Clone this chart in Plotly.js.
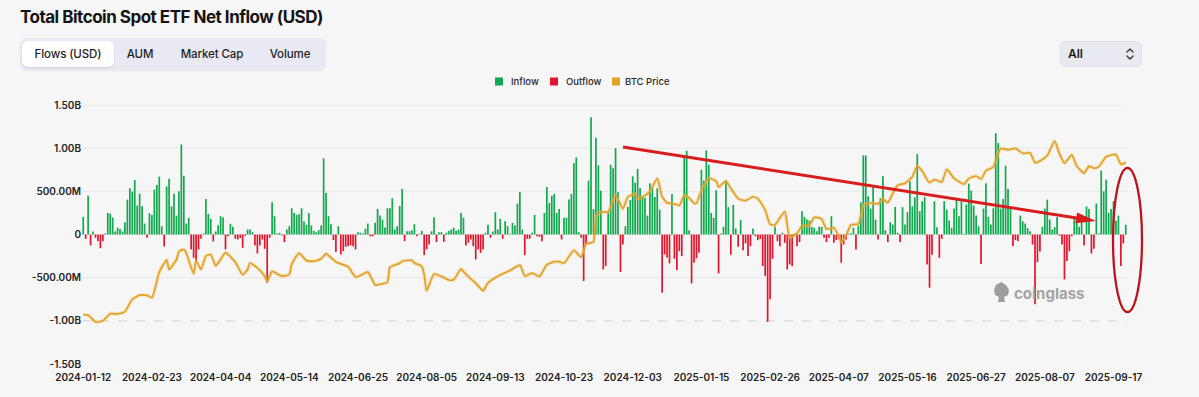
<!DOCTYPE html>
<html>
<head>
<meta charset="utf-8">
<script src="https://cdn.plot.ly/plotly-3.0.1.min.js"></script>
<style>
html,body{margin:0;padding:0;background:#f6f6f6;}
#wrap{position:relative;width:1199px;height:397px;overflow:hidden;background:#f6f6f6;font-family:Inter,"Noto Sans",sans-serif;}
#chart{position:absolute;left:0;top:0;width:1199px;height:397px;}
.title{position:absolute;left:20px;top:7px;font-size:17px;font-weight:700;letter-spacing:-0.5px;color:#141414;white-space:nowrap;}
.tabs{position:absolute;left:20px;top:38px;width:306px;height:32px;background:#e8e9f2;border-radius:7px;box-shadow:0 1px 2px rgba(0,0,0,0.06);}
.tab{position:absolute;top:3px;height:26px;line-height:26px;font-size:11.5px;font-weight:500;letter-spacing:-0.1px;color:#1e1e1e;text-align:center;white-space:nowrap;}
.tab.sel{background:#ffffff;border-radius:6px;box-shadow:0 1px 2px rgba(0,0,0,0.13);}
.dd{position:absolute;left:1060px;top:41px;width:82px;height:26px;background:#e8e9f1;border:1px solid #dcdde6;border-radius:6px;box-sizing:border-box;}
.dd span{position:absolute;left:7px;top:0;line-height:24px;font-size:12px;font-weight:600;color:#1a1a1a;}
.dd svg{position:absolute;left:64px;top:5px;}
</style>
</head>
<body>
<div id="wrap">
  <div id="chart"></div>
  <div class="title">Total Bitcoin Spot ETF Net Inflow (USD)</div>
  <div class="tabs">
    <div class="tab sel" style="left:2px;width:92px;">Flows (USD)</div>
    <div class="tab" style="left:100px;width:40px;">AUM</div>
    <div class="tab" style="left:152px;width:80px;">Market Cap</div>
    <div class="tab" style="left:242px;width:56px;">Volume</div>
  </div>
  <div class="dd"><span>All</span>
    <svg width="10" height="14" viewBox="0 0 10 14"><path d="M2 5 L5 2 L8 5 M2 9 L5 12 L8 9" stroke="#333" stroke-width="1.4" fill="none" stroke-linecap="round" stroke-linejoin="round"/></svg>
  </div>
</div>
<script>
// ---------------- DATA ----------------
// Daily net flows, USD millions, one per US trading day from 2024-01-12
const flows = [
204,-50,450,-127,35,-38,-77,-158,-77,12,
250,243,196,35,80,65,35,142,404,535,
497,631,335,473,327,127,-38,246,227,520,
574,670,96,-139,558,647,327,473,219,500,
1043,681,127,193,-173,-270,-327,-173,-50,12,
412,239,181,-81,35,108,212,200,-173,-20,
123,89,-50,-58,-40,-154,
-15,58,58,27,-127,-220,-127,-58,-166,-560,
-38,373,212,12,20,-10,-88,58,96,304,
250,227,235,304,150,112,250,104,42,27,
50,104,882,481,212,119,-65,-204,96,-231,
-193,-142,-135,-127,-135,-173,27,20,12,65,
127,-20,-20,135,296,219,173,80,304,304,
420,58,96,330,527,
-77,38,38,50,119,-20,10,42,-239,-173,
-116,38,200,-88,27,27,-85,20,42,58,
80,42,58,250,196,-127,-96,-58,-135,-289,
-173,-212,-173,20,112,-38,35,258,58,181,
-50,154,96,10,135,104,358,493,58,-239,
-50,-50,20,227,-20,-27,-77,250,550,366,
450,470,250,296,-58,193,
193,404,470,828,893,27,-38,-539,-116,624,
1359,294,1120,800,508,-404,-366,255,808,766,
1000,490,-435,-116,96,320,400,674,600,760,
539,435,427,219,593,547,435,535,289,-674,
-231,-270,-335,470,-281,-412,-193,-250,908,970,
50,-566,-327,-277,-212,750,627,974,808,250,
193,512,-450,12,89,
628,316,-235,343,69,-142,169,-181,-104,-250,
-135,69,-20,-65,-50,-366,-480,-1013,-750,-281,
89,-77,-135,20,-96,-404,-347,-366,13,-135,
-88,270,204,173,162,89,77,38,89,89,
-38,-88,-38,212,-96,-65,-50,-327,-116,-58,
10,15,77,-173,107,373,916,916,443,300,
558,173,-58,422,674,
50,-88,142,115,320,20,-88,316,115,258,
616,327,431,932,270,385,435,-347,-616,-235,
385,85,-270,-50,385,289,162,77,300,400,
212,385,6,346,589,508,335,219,96,-343,
300,593,204,115,304,1174,1059,300,412,797,
527,327,-135,-65,-77,219,154,127,73,38,
-116,-808,-320,-196,
89,300,404,173,58,85,204,-14,-116,-520,
-308,-193,-20,204,173,89,154,-127,327,296,
-220,-166,358,12,740,500,635,250,296,385,
162,219,-366,-104,112
];

// US market holidays inside the period (trading-day calendar for the categories)
const marketHolidays = ['2024-01-15','2024-02-19','2024-03-29','2024-05-27','2024-06-19','2024-07-04','2024-09-02','2024-11-28','2024-12-25','2025-01-01','2025-01-09','2025-01-20','2025-02-17','2025-04-18','2025-05-26','2025-06-19','2025-07-04','2025-09-01'];
const firstDay = '2024-01-12';

// BTC price, USD thousands
const priceDates = [
'2024-01-12','2024-01-17','2024-01-22','2024-01-25','2024-01-30','2024-02-02','2024-02-07','2024-02-12','2024-02-15','2024-02-21','2024-02-23','2024-02-28',
'2024-03-04','2024-03-05','2024-03-08','2024-03-11','2024-03-13','2024-03-14','2024-03-19','2024-03-20','2024-03-22','2024-03-26','2024-03-28',
'2024-04-02','2024-04-04','2024-04-08','2024-04-12','2024-04-17','2024-04-19','2024-04-22','2024-04-25','2024-04-30',
'2024-05-01','2024-05-03','2024-05-08','2024-05-10','2024-05-14','2024-05-15','2024-05-20','2024-05-23','2024-05-29',
'2024-06-03','2024-06-05','2024-06-07','2024-06-11','2024-06-14','2024-06-18','2024-06-24','2024-06-27',
'2024-07-01','2024-07-05','2024-07-08','2024-07-12','2024-07-15','2024-07-19','2024-07-22','2024-07-26','2024-07-29',
'2024-08-01','2024-08-02','2024-08-05','2024-08-08','2024-08-13','2024-08-16','2024-08-20','2024-08-23','2024-08-26','2024-08-29',
'2024-09-03','2024-09-06','2024-09-10','2024-09-13','2024-09-18','2024-09-23','2024-09-27',
'2024-10-01','2024-10-04','2024-10-09','2024-10-14','2024-10-17','2024-10-21','2024-10-23','2024-10-29',
'2024-11-01','2024-11-05','2024-11-08','2024-11-11','2024-11-13','2024-11-18','2024-11-21','2024-11-26','2024-11-29',
'2024-12-04','2024-12-05','2024-12-09','2024-12-12','2024-12-17','2024-12-19','2024-12-23','2024-12-27','2024-12-31',
'2025-01-03','2025-01-07','2025-01-10','2025-01-13','2025-01-15','2025-01-17','2025-01-21','2025-01-24','2025-01-27','2025-01-30',
'2025-02-03','2025-02-06','2025-02-11','2025-02-14','2025-02-19','2025-02-24','2025-02-26','2025-02-28',
'2025-03-03','2025-03-06','2025-03-10','2025-03-13','2025-03-17','2025-03-20','2025-03-24','2025-03-27','2025-03-31',
'2025-04-03','2025-04-07','2025-04-08','2025-04-10','2025-04-14','2025-04-17','2025-04-22','2025-04-25','2025-04-30',
'2025-05-02','2025-05-06','2025-05-08','2025-05-12','2025-05-15','2025-05-20','2025-05-22','2025-05-27','2025-05-30',
'2025-06-03','2025-06-06','2025-06-10','2025-06-13','2025-06-17','2025-06-20','2025-06-24','2025-06-27',
'2025-07-01','2025-07-03','2025-07-09','2025-07-11','2025-07-14','2025-07-17','2025-07-22','2025-07-25','2025-07-30',
'2025-08-01','2025-08-05','2025-08-08','2025-08-13','2025-08-15','2025-08-19','2025-08-22','2025-08-26','2025-08-29',
'2025-09-03','2025-09-05','2025-09-09','2025-09-12','2025-09-16','2025-09-18','2025-09-22','2025-09-24'
];
const priceValues = [
42.8,42.7,39.5,40.0,43.3,43.2,44.3,50.0,51.9,51.8,50.7,62.5,
68.3,63.8,68.3,72.1,73.1,71.4,61.9,67.9,63.8,70.0,70.7,
65.5,68.5,71.6,67.2,61.3,63.8,66.8,64.5,60.6,
58.3,62.9,61.2,60.8,61.6,66.3,71.4,67.9,67.6,
68.8,71.1,69.3,67.3,66.0,65.1,60.3,61.6,
62.7,56.6,56.7,57.9,64.8,66.7,67.6,68.0,66.8,
65.3,61.4,54.0,61.7,60.6,58.9,59.0,64.1,62.8,59.4,
57.5,53.9,57.6,60.0,61.8,63.3,65.8,
60.8,62.1,60.6,66.0,67.4,67.4,66.7,72.7,
69.5,75.6,76.5,88.7,90.4,90.5,98.3,91.9,97.4,
98.8,96.6,97.4,100.0,106.0,97.5,94.7,94.2,93.4,
98.1,96.9,94.5,94.5,100.5,104.4,106.1,104.7,102.0,104.7,
101.4,96.6,95.7,97.5,96.6,91.4,84.7,84.4,
86.0,90.6,78.5,80.5,84.0,84.2,88.0,87.2,82.5,
83.1,79.2,76.3,79.6,84.5,84.9,93.4,94.6,94.2,
96.5,94.7,99.0,102.8,103.7,106.8,111.7,109.4,104.0,
105.4,104.3,110.2,106.0,104.5,103.3,105.9,107.1,
105.7,109.6,111.3,117.5,119.8,119.3,119.9,117.6,117.8,
113.3,114.1,116.6,123.3,117.4,113.0,116.9,111.7,108.4,
111.7,110.7,111.5,116.0,116.8,117.1,112.6,113.3
];

// x tick labels (every 28th trading day)
const tickLabels = ['2024-01-12','2024-02-23','2024-04-04','2024-05-14','2024-06-25','2024-08-05','2024-09-13','2024-10-23','2024-12-03','2025-01-15','2025-02-26','2025-04-07','2025-05-16','2025-06-27','2025-08-07','2025-09-17'];
const yTickVals = [-1500,-1000,-500,0,500,1000,1500];
const yTickText = ['-1.50B','-1.00B','-500.00M','0','500.00M','1.00B','1.50B'];
const legendNames = ['Inflow','Outflow','BTC Price'];

// ---------------- BUILD ----------------
function tradingDays(start, n){
  const out=[]; const d=new Date(start+'T00:00:00Z');
  while(out.length<n){
    const wd=d.getUTCDay(); const s=d.toISOString().slice(0,10);
    if(wd!==0 && wd!==6 && marketHolidays.indexOf(s)<0) out.push(s);
    d.setUTCDate(d.getUTCDate()+1);
  }
  return out;
}
const dates = tradingDays(firstDay, flows.length);
const dateSet = new Set(dates);
const pX=[], pY=[];
priceDates.forEach((d,i)=>{ if(dateSet.has(d)){ pX.push(d); pY.push(priceValues[i]); } });

const GREEN='#13a84f', RED='#e1162e', ORANGE='#e2a024';
const L=82, R=1127, T=105, B=364;
const px = x => (x-L)/(R-L);
const py = y => (B-y)/(B-T);

const traces = [
  {type:'bar', x:dates, y:flows.map(v=>v>=0?v:null), marker:{color:GREEN}, name:legendNames[0], hoverinfo:'skip'},
  {type:'bar', x:dates, y:flows.map(v=>v<0?v:null), marker:{color:RED}, name:legendNames[1], hoverinfo:'skip'},
  {type:'scatter', mode:'lines', x:pX, y:pY, yaxis:'y2', line:{color:'rgba(240,190,90,0.3)', width:4, shape:'spline', smoothing:0.5}, showlegend:false, hoverinfo:'skip'},
  {type:'scatter', mode:'lines', x:pX, y:pY, yaxis:'y2', line:{color:ORANGE, width:1.7, shape:'spline', smoothing:0.5}, name:legendNames[2], hoverinfo:'skip'}
];

const shapes = [];
yTickVals.forEach(v=>{
  if(v===-1500) return;
  shapes.push({type:'line', xref:'paper', yref:'y', x0:0, x1:1, y0:v, y1:v, layer:'below',
    line:{color: v===-1000 ? '#d2d2d2' : '#e7e7e7', width:1, dash: v===-1000 ? 'dash':'solid'}});
});
// legend squares
const legColors=[GREEN,RED,ORANGE], legSq=[495,550,612], legTx=[509,564,623];
const annotations=[];
legSq.forEach((x,i)=>{
  shapes.push({type:'rect', xref:'paper', yref:'paper', x0:px(x), x1:px(x+8), y0:py(85.5), y1:py(77.5), fillcolor:legColors[i], line:{width:0}});
  annotations.push({xref:'paper', yref:'paper', x:px(legTx[i]), y:py(81.5), xanchor:'left', yanchor:'middle', showarrow:false,
    text:legendNames[i], font:{family:'Inter, Noto Sans, sans-serif', size:9.5, color:'#2a2a2a', weight:500}});
});
// red trend arrow
const a0=[623,147], a1=[1096,221];
const dx=a1[0]-a0[0], dy=a1[1]-a0[1], len=Math.hypot(dx,dy), ux=dx/len, uy=dy/len;
const hb=[a1[0]-20*ux, a1[1]-20*uy];
shapes.push({type:'line', xref:'paper', yref:'paper', x0:px(a0[0]), y0:py(a0[1]), x1:px(hb[0]+2*ux), y1:py(hb[1]+2*uy), line:{color:'#d91c1c', width:3}});
const p1=[hb[0]-5.5*uy, hb[1]+5.5*ux], p2=[hb[0]+5.5*uy, hb[1]-5.5*ux];
shapes.push({type:'path', xref:'paper', yref:'paper', fillcolor:'#d91c1c', line:{width:0},
  path:`M ${px(a1[0])},${py(a1[1])} L ${px(p1[0])},${py(p1[1])} L ${px(p2[0])},${py(p2[1])} Z`});
// ellipse
shapes.push({type:'circle', xref:'paper', yref:'paper', x0:px(1113), x1:px(1142), y0:py(312), y1:py(168), line:{color:'#b8161c', width:2.3}});
// watermark icon
const icon=[[996,285],[1001,282],[1006,285],[1009,290],[1008,295],[1004,297],[1005,302],[998,302],[999,297],[995,295],[994,290]];
shapes.push({type:'path', xref:'paper', yref:'paper', fillcolor:'#9d9d9d', line:{width:0},
  path:'M '+icon.map(p=>px(p[0])+','+py(p[1])).join(' L ')+' Z'});
annotations.push({xref:'paper', yref:'paper', x:px(1012), y:py(293), xanchor:'left', yanchor:'middle', showarrow:false,
  text:'coinglass', font:{family:'Inter, Noto Sans, sans-serif', size:15, color:'#a3a3a3', weight:700}});

const layout = {
  width:1199, height:397,
  margin:{l:L, r:1199-R, t:T, b:397-B, pad:0},
  paper_bgcolor:'#f6f6f6', plot_bgcolor:'#f6f6f6',
  showlegend:false, barmode:'relative', bargap:0.3,
  font:{family:'Inter, Noto Sans, sans-serif', color:'#222'},
  xaxis:{type:'category', categoryorder:'array', categoryarray:dates, range:[-0.5, dates.length-0.5],
    tickmode:'array', tickvals:tickLabels, ticktext:tickLabels, showgrid:false, zeroline:false, showline:false, ticks:'',
    ticklabelstandoff:6, tickangle:0, tickfont:{size:10, color:'#222', weight:600}},
  yaxis:{range:[-1500,1500], tickmode:'array', tickvals:yTickVals, ticktext:yTickText, showgrid:false, zeroline:false,
    showline:false, ticks:'', tickfont:{size:10, color:'#222', weight:600}},
  yaxis2:{overlaying:'y', side:'right', range:[20,140], visible:false, showgrid:false, zeroline:false},
  shapes:shapes, annotations:annotations
};
Plotly.newPlot('chart', traces, layout, {staticPlot:true, displayModeBar:false});
</script>
</body>
</html>
